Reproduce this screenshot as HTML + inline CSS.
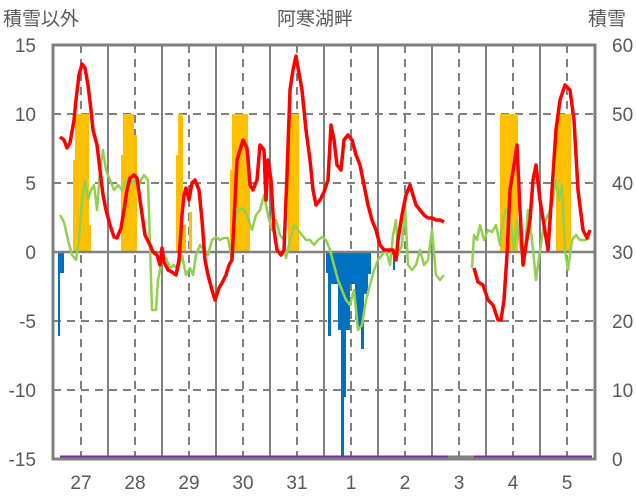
<!DOCTYPE html>
<html><head><meta charset="utf-8"><style>
html,body{margin:0;padding:0;background:#fff;}
svg{display:block;font-family:"Liberation Sans","Noto Sans CJK JP",sans-serif;}
</style></head><body>
<svg width="636" height="501" viewBox="0 0 636 501">
<rect width="636" height="501" fill="#fff"/>
<g fill="#595959" font-size="19">
<text x="3" y="25">積雪以外</text>
<text x="277" y="25">阿寒湖畔</text>
<text x="588" y="25">積雪</text>
</g>
<g stroke="#808080" stroke-width="2" stroke-dasharray="8,6">
<line x1="53" y1="114" x2="595" y2="114"/>
<line x1="53" y1="183" x2="595" y2="183"/>
<line x1="53" y1="321" x2="595" y2="321"/>
<line x1="53" y1="390" x2="595" y2="390"/>
</g>
<g stroke="#808080" stroke-width="2">
<line x1="108" y1="45" x2="108" y2="459"/><line x1="162" y1="45" x2="162" y2="459"/>
<line x1="216" y1="45" x2="216" y2="459"/><line x1="270" y1="45" x2="270" y2="459"/>
<line x1="324" y1="45" x2="324" y2="459"/><line x1="378" y1="45" x2="378" y2="459"/>
<line x1="432" y1="45" x2="432" y2="459"/><line x1="486" y1="45" x2="486" y2="459"/>
<line x1="540" y1="45" x2="540" y2="459"/>
</g>
<g stroke="#808080" stroke-width="2" stroke-dasharray="8,6">
<line x1="81" y1="45" x2="81" y2="459"/><line x1="135" y1="45" x2="135" y2="459"/>
<line x1="189" y1="45" x2="189" y2="459"/><line x1="243" y1="45" x2="243" y2="459"/>
<line x1="297" y1="45" x2="297" y2="459"/><line x1="351" y1="45" x2="351" y2="459"/>
<line x1="405" y1="45" x2="405" y2="459"/><line x1="459" y1="45" x2="459" y2="459"/>
<line x1="513" y1="45" x2="513" y2="459"/><line x1="567" y1="45" x2="567" y2="459"/>
</g>
<g fill="#FFC000">
<rect x="73" y="160" width="2" height="92"/><rect x="75" y="114" width="14" height="138"/><rect x="89" y="225" width="2" height="27"/>
<rect x="121" y="155" width="2" height="97"/><rect x="123" y="114" width="11" height="138"/><rect x="134" y="135" width="3" height="117"/>
<rect x="176" y="155" width="2" height="97"/><rect x="178" y="114" width="5" height="138"/><rect x="183" y="225" width="3" height="27"/><rect x="189" y="212" width="3" height="40"/>
<rect x="230" y="170" width="2" height="82"/><rect x="232" y="114" width="16" height="138"/><rect x="248" y="155" width="2" height="97"/>
<rect x="288" y="114" width="11" height="138"/>
<rect x="500" y="114" width="18" height="138"/>
<rect x="556" y="114" width="15" height="138"/>
</g>
<g fill="#0070C0">
<rect x="58" y="252" width="2" height="84"/><rect x="60" y="252" width="4" height="21"/>
<rect x="326" y="252" width="2" height="21"/><rect x="328" y="252" width="3" height="84"/>
<rect x="331" y="252" width="7" height="32"/><rect x="338" y="252" width="3" height="78"/>
<rect x="341" y="252" width="3" height="206"/><rect x="344" y="252" width="2" height="145"/>
<rect x="346" y="252" width="4" height="78"/><rect x="350" y="252" width="5" height="32"/>
<rect x="355" y="252" width="3" height="68"/><rect x="358" y="252" width="3" height="75"/>
<rect x="361" y="252" width="3" height="97"/><rect x="364" y="252" width="4" height="42"/>
<rect x="368" y="252" width="3" height="22"/><rect x="393" y="252" width="2" height="18"/>
</g>
<line x1="53" y1="252" x2="595" y2="252" stroke="#808080" stroke-width="2.5"/>
<g fill="none" stroke="#92D050" stroke-width="2.5" stroke-linejoin="round">
<polyline points="60,215 64,222 68,240 72,255 76,260 79,240 82,200 85,180 88,200 91,190 94,185 97,210 100,170 103,150 106,170 110,180 114,190 118,185 122,190 126,180 130,185 134,180 138,188 141,180 144,175 148,180 152,310 156,310 158,280 162,260 166,258 170,268 174,265 178,270 182,255 186,275 190,268 193,275 196,255 200,245 204,250 208,255 212,240 216,237 220,240 224,238 228,238 232,260 236,215 240,208 244,210 248,218 252,230 256,215 260,210 264,195 268,215 272,230 276,220 280,235 284,240 286,258 290,240 294,225 298,230 302,235 306,240 310,240 314,245 318,240 322,237 326,240 330,250 334,265 338,280 342,290 346,300 350,305 354,290 358,330 362,325 366,300 370,285 374,270 378,260 382,255 386,250 390,265 393,235 396,220 398,255 402,245 405,205 408,265 412,270 416,265 420,250 424,265 428,260 432,230 436,275 440,280 444,275"/>
<polyline points="472,268 474,235 477,240 480,225 484,240 488,230 492,232 496,225 500,245 503,220 506,210 510,215 514,250 517,220 520,245 524,265 528,210 532,240 536,280 540,250 544,225 548,215 552,205 556,180 559,200 562,185 565,250 568,270 572,240 576,235 580,240 585,240 590,238"/>
</g>
<g fill="none" stroke="#FF0000" stroke-width="3.5" stroke-linejoin="round">
<polyline points="60,137 64,140 67,148 70,143 74,120 76,100 79,75 82,64 85,68 88,85 91,110 93,130 97,145 100,170 103,195 106,210 110,225 114,237 117,238 121,228 124,210 127,190 130,178 134,175 137,178 140,200 145,235 150,245 153,252 157,255 160,265 162,248 164,262 168,270 172,272 176,275 179,260 182,215 184,195 186,188 189,200 192,183 195,180 199,190 202,220 205,260 208,275 212,290 215,300 219,288 222,283 226,275 229,265 232,260 235,200 237,160 240,150 243,140 247,148 250,185 253,190 257,180 260,145 264,150 266,200 268,160 271,180 274,230 277,250 281,255 284,250 287,175 290,90 293,70 296,56 298,68 302,90 306,130 310,160 313,190 316,205 320,200 324,192 328,180 331,125 334,140 337,165 341,170 344,140 348,135 352,140 356,155 360,165 364,185 368,205 372,220 376,230 380,245 384,250 388,250 393,250 396,260 398,240 402,215 406,195 410,185 413,195 416,205 420,210 424,215 428,218 432,218 436,220 440,220 444,222"/>
<polyline points="474,268 478,282 483,285 488,300 493,305 498,320 501,320 504,300 507,255 510,190 514,165 517,145 520,210 523,265 526,245 530,220 533,180 536,165 540,200 544,225 548,250 552,190 556,130 560,100 565,85 570,90 574,120 578,190 583,230 587,238 590,230"/>
</g>
<g stroke="#7030A0" stroke-width="3">
<line x1="60" y1="457" x2="448" y2="457"/><line x1="474" y1="457" x2="592" y2="457"/>
</g>
<line x1="448" y1="457" x2="474" y2="457" stroke="#808080" stroke-width="3"/>
<rect x="53" y="45" width="542" height="414" fill="none" stroke="#808080" stroke-width="3"/>
<g fill="#595959" font-size="19" text-anchor="end">
<text x="36" y="52">15</text><text x="36" y="121">10</text><text x="36" y="190">5</text>
<text x="36" y="259">0</text><text x="36" y="328">-5</text><text x="36" y="397">-10</text><text x="36" y="466">-15</text>
</g>
<g fill="#595959" font-size="19">
<text x="612" y="52">60</text><text x="612" y="121">50</text><text x="612" y="190">40</text>
<text x="612" y="259">30</text><text x="612" y="328">20</text><text x="612" y="397">10</text><text x="612" y="466">0</text>
</g>
<g fill="#595959" font-size="19" text-anchor="middle">
<text x="81" y="489">27</text><text x="135" y="489">28</text><text x="189" y="489">29</text>
<text x="243" y="489">30</text><text x="297" y="489">31</text><text x="351" y="489">1</text>
<text x="405" y="489">2</text><text x="459" y="489">3</text><text x="513" y="489">4</text><text x="567" y="489">5</text>
</g>
</svg>
</body></html>
